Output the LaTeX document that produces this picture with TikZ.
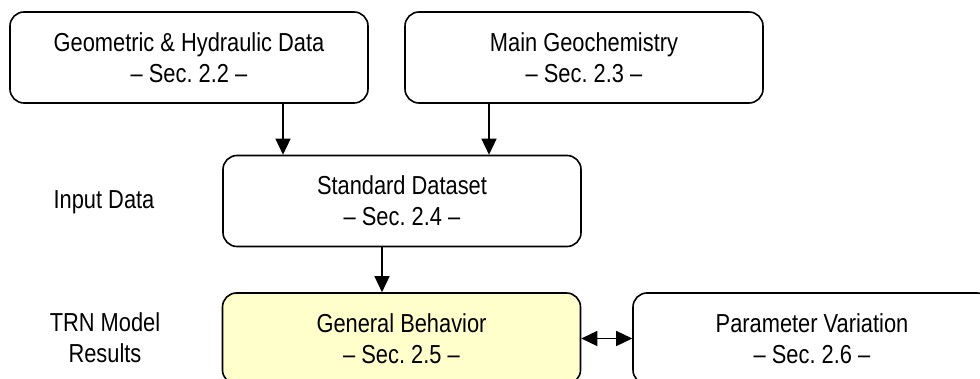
\documentclass[tikz,border=0pt]{standalone}
\usepackage{fontspec}
\setmainfont[FakeStretch=0.84]{Liberation Sans}
\usetikzlibrary{arrows.meta}
\definecolor{hl}{HTML}{FFFFCC}
\frenchspacing
\tikzset{
  box/.style={draw=black, line width=1.6pt, rounded corners=14pt, fill=white,
    minimum width=358pt, minimum height=91pt, inner sep=0pt, align=center,
    font=\fontsize{26}{31}\selectfont},
  lbl/.style={align=center, inner sep=0pt, font=\fontsize{26}{31}\selectfont},
  tip/.style={Triangle[length=16pt,width=15pt]},
  arr/.style={line width=1.5pt, -{Triangle[length=16pt,width=15pt]}},
  darr/.style={line width=1.5pt, {Triangle[length=16pt,width=15pt]}-{Triangle[length=16pt,width=15pt]}}
}
\begin{document}
\begin{tikzpicture}[x=1pt,y=-1pt]
\useasboundingbox (0,0) rectangle (980,379);
\clip (0,0) rectangle (980,379);
\node[box] (g1) at (189,57.5) {Geometric \& Hydraulic Data\\– Sec. 2.2 –};
\node[box] (g2) at (584,57.5) {Main Geochemistry\\– Sec. 2.3 –};
\node[box] (std) at (402,201) {Standard Dataset\\– Sec. 2.4 –};
\node[box, fill=hl] (gen) at (401.5,338.5) {General Behavior\\– Sec. 2.5 –};
\node[box] (par) at (812,338.5) {Parameter Variation\\– Sec. 2.6 –};
\node[lbl] (inp) at (104,202) {Input Data};
\node[lbl] (trn) at (105,338) {TRN Model\\Results};
\coordinate (ax1) at (283,0);
\coordinate (ax2) at (489,0);
\coordinate (ax3) at (382,0);
\draw[arr] (g1.south -| ax1) -- (std.north -| ax1);
\draw[arr] (g2.south -| ax2) -- (std.north -| ax2);
\draw[arr] (std.south -| ax3) -- (gen.north -| ax3);
\draw[darr] (gen.east) -- (par.west);
\end{tikzpicture}
\end{document}
